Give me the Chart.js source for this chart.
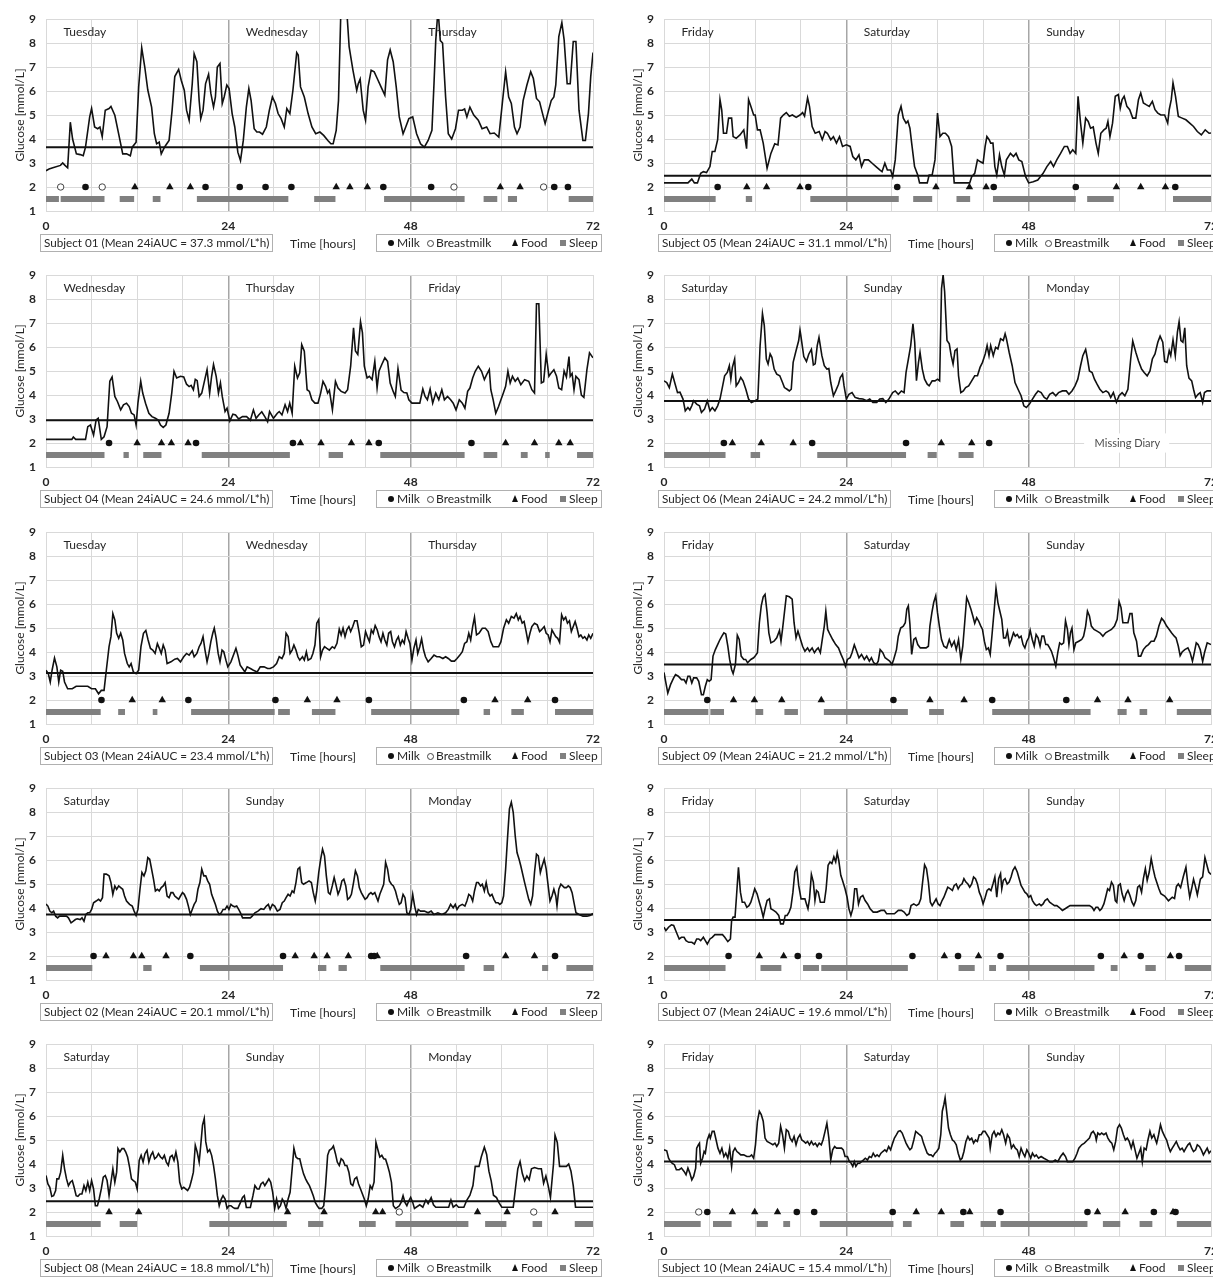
<!DOCTYPE html>
<html><head><meta charset="utf-8">
<script src="https://cdn.jsdelivr.net/npm/chart.js@4.4.1/dist/chart.umd.min.js"></script>
<style>
html,body{margin:0;padding:0;background:#fff;overflow:hidden;width:1213px;height:1278px;position:relative;}
canvas{position:absolute;}
.sbox{position:absolute;height:16px;line-height:16px;border:1px solid #b0b0b0;padding:0 3px;font:11.7px Lato,"Open Sans",sans-serif;color:#262626;white-space:nowrap;box-sizing:content-box;}
.xt{position:absolute;font:12px Lato,"Open Sans",sans-serif;color:#262626;white-space:nowrap;}
.leg{position:absolute;height:16px;width:224px;border:1px solid #b0b0b0;font:12px Lato,"Open Sans",sans-serif;color:#262626;white-space:nowrap;}
.leg span{position:absolute;top:0;line-height:16px;}
.leg i{position:absolute;display:block;}
.mk{width:6px;height:6px;border-radius:50%;background:#111;top:5px;}
.bm{width:5px;height:5px;border-radius:50%;border:1px solid #444;background:#fff;top:5px;}
.fd{width:0;height:0;border-left:3.5px solid transparent;border-right:3.5px solid transparent;border-bottom:7px solid #111;top:4px;}
.sl{width:6px;height:6px;background:#808080;top:5px;}
</style>
</head><body>
<script>
// ---------------- DATA ----------------
const xTickLabels = [0, 24, 48, 72];

const days01 = ['Tuesday','Wednesday','Thursday'];
const days05 = ['Friday','Saturday','Sunday'];
const days04 = ['Wednesday','Thursday','Friday'];
const days06 = ['Saturday','Sunday','Monday'];
const days03 = ['Tuesday','Wednesday','Thursday'];
const days09 = ['Friday','Saturday','Sunday'];
const days02 = ['Saturday','Sunday','Monday'];
const days07 = ['Friday','Saturday','Sunday'];
const days08 = ['Saturday','Sunday','Monday'];
const days10 = ['Friday','Saturday','Sunday'];

const label01 = 'Subject 01 (Mean 24iAUC = 37.3 mmol/L*h)';
const label05 = 'Subject 05 (Mean 24iAUC = 31.1 mmol/L*h)';
const label04 = 'Subject 04 (Mean 24iAUC = 24.6 mmol/L*h)';
const label06 = 'Subject 06 (Mean 24iAUC = 24.2 mmol/L*h)';
const label03 = 'Subject 03 (Mean 24iAUC = 23.4 mmol/L*h)';
const label09 = 'Subject 09 (Mean 24iAUC = 21.2 mmol/L*h)';
const label02 = 'Subject 02 (Mean 24iAUC = 20.1 mmol/L*h)';
const label07 = 'Subject 07 (Mean 24iAUC = 19.6 mmol/L*h)';
const label08 = 'Subject 08 (Mean 24iAUC = 18.8 mmol/L*h)';
const label10 = 'Subject 10 (Mean 24iAUC = 15.4 mmol/L*h)';

const baseline01 = 3.66, baseline05 = 2.47, baseline04 = 2.95, baseline06 = 3.75, baseline03 = 3.13;
const baseline09 = 3.48, baseline02 = 3.73, baseline07 = 3.5, baseline08 = 2.45, baseline10 = 4.1;

// glucose [hour, mmol/L]
const glucose01 = [[0,2.68],[0.4,2.75],[0.9,2.8],[1.9,2.9],[2.2,3.0],[2.5,2.9],[2.85,2.8],[3.2,4.7],[3.5,4.0],[4.0,3.38],[4.5,3.35],[4.9,3.3],[5.2,3.66],[5.75,4.92],[6.0,5.27],[6.4,4.5],[6.8,4.43],[7.1,4.5],[7.4,4.1],[7.8,5.2],[8.3,5.27],[8.55,5.36],[9.06,4.99],[9.57,4.2],[10.1,3.38],[10.6,3.38],[11.1,3.3],[11.35,3.66],[11.86,3.87],[12.2,6.17],[12.6,7.8],[13.0,7.0],[13.4,6.04],[13.9,5.33],[14.26,4.22],[14.56,3.8],[14.9,3.87],[15.17,3.38],[15.6,3.66],[15.9,3.8],[16.2,3.94],[16.6,5.2],[16.95,6.6],[17.46,6.9],[17.8,6.45],[18.2,6.03],[18.5,5.2],[18.84,4.78],[19.25,6.3],[19.5,7.55],[19.86,7.22],[20.16,5.6],[20.37,4.85],[20.67,5.2],[21.0,6.3],[21.4,6.7],[21.7,5.9],[22.05,5.33],[22.3,5.75],[22.55,7.0],[22.9,7.15],[23.2,5.48],[23.45,5.75],[23.8,6.25],[24.1,6.1],[24.5,5.06],[24.85,4.5],[25.25,3.45],[25.6,3.1],[25.97,3.94],[26.37,5.33],[26.7,6.1],[27.0,5.6],[27.4,4.43],[27.75,4.29],[28.1,4.29],[28.5,4.2],[29.0,4.5],[29.4,5.2],[29.8,5.75],[30.2,5.48],[30.55,5.06],[30.95,4.85],[31.36,4.5],[31.7,5.27],[32.1,5.06],[32.5,6.03],[33.0,7.6],[33.2,7.5],[33.5,6.17],[34.0,5.75],[34.5,5.06],[35.0,4.5],[35.5,4.22],[36.05,4.29],[36.55,4.15],[37.1,3.94],[37.5,3.8],[37.8,3.8],[38.2,4.36],[38.5,5.6],[38.8,9.2],[39.2,9.8],[39.6,9.3],[39.9,7.85],[40.4,6.87],[40.9,6.03],[41.1,6.3],[41.35,6.5],[41.75,5.2],[42.06,4.78],[42.4,6.17],[42.8,6.87],[43.2,6.8],[43.6,6.52],[44.1,6.17],[44.6,5.83],[44.96,7.3],[45.3,7.71],[45.7,7.22],[46.1,6.17],[46.5,4.92],[47.0,4.22],[47.35,4.5],[47.76,4.85],[48.27,4.92],[48.78,4.22],[49.3,3.8],[49.8,3.66],[50.3,3.94],[50.8,4.36],[51.07,6.3],[51.3,8.1],[51.6,9.4],[51.9,8.1],[52.2,8.0],[52.6,5.75],[52.95,4.22],[53.4,4.0],[53.9,4.43],[54.3,5.2],[54.8,5.2],[55.1,5.25],[55.4,4.92],[55.8,5.33],[56.3,5.0],[56.9,4.78],[57.4,4.43],[58.0,4.5],[58.45,4.22],[59.0,4.25],[59.6,4.08],[60.1,5.6],[60.5,6.8],[60.9,5.75],[61.25,5.48],[61.66,4.5],[62.0,4.22],[62.4,4.5],[62.8,5.6],[63.3,6.25],[63.8,6.8],[64.15,6.52],[64.56,5.69],[64.97,5.55],[65.3,5.13],[65.7,4.64],[66.1,5.13],[66.5,5.6],[66.85,5.75],[67.1,6.25],[67.5,8.27],[67.9,8.85],[68.2,8.13],[68.6,6.3],[69.0,6.3],[69.4,8.06],[69.75,8.06],[70.16,5.2],[70.67,3.94],[71.0,3.94],[71.4,5.06],[71.7,6.6],[72,7.6]];

const glucose05 = [[0,2.17],[1.5,2.17],[3.15,2.17],[3.66,2.33],[4.0,2.17],[4.4,2.17],[4.83,2.57],[5.18,2.64],[5.6,2.6],[6.05,2.85],[6.35,3.48],[6.7,3.48],[7.06,3.97],[7.37,5.64],[7.6,5.2],[7.83,4.24],[8.23,4.24],[8.5,4.87],[8.9,4.87],[9.1,4.1],[9.5,4.03],[10.0,4.17],[10.5,4.38],[10.87,3.6],[11.13,5.64],[11.43,5.36],[11.8,5.0],[12.0,5.0],[12.3,4.38],[12.65,4.38],[13.06,3.83],[13.57,2.78],[14.07,3.4],[14.58,3.8],[15.0,3.75],[15.35,4.87],[15.7,5.0],[16.1,5.1],[16.5,4.95],[16.9,5.0],[17.4,4.9],[17.9,5.0],[18.24,5.1],[18.5,4.95],[18.9,5.71],[19.15,5.36],[19.5,4.52],[19.9,4.24],[20.43,4.31],[20.83,3.97],[21.2,4.31],[21.5,4.24],[21.95,3.97],[22.3,4.1],[22.7,3.83],[23.1,4.1],[23.5,3.69],[24.0,3.76],[24.5,3.69],[24.85,3.27],[25.25,3.13],[25.66,3.34],[26.0,2.85],[26.37,3.13],[26.9,3.13],[27.4,2.99],[27.9,2.85],[28.4,2.71],[28.7,2.64],[29.07,2.99],[29.4,2.71],[29.83,2.71],[30.1,2.43],[30.44,3.13],[30.84,5.0],[31.2,5.36],[31.5,4.87],[31.86,4.66],[32.1,4.75],[32.37,4.45],[32.6,3.83],[32.98,2.85],[33.4,2.5],[33.64,2.17],[34.15,2.17],[34.65,2.17],[34.9,2.5],[35.3,2.5],[35.67,3.13],[36.0,5.08],[36.33,4.1],[36.7,4.24],[37.04,4.24],[37.45,4.1],[37.86,3.69],[38.2,2.17],[40.24,2.17],[40.5,2.43],[40.9,2.57],[41.26,3.13],[41.6,3.06],[42.0,2.99],[42.27,3.69],[42.5,4.1],[42.8,3.97],[43.0,3.83],[43.3,3.83],[43.55,2.85],[43.8,2.5],[44.16,3.34],[44.46,2.85],[44.8,2.5],[45.07,3.13],[45.6,3.4],[46.0,3.27],[46.34,3.4],[46.7,3.13],[47.1,3.06],[47.6,2.43],[48.0,2.17],[48.6,2.22],[49.2,2.29],[49.9,2.57],[50.4,2.85],[50.9,3.06],[51.27,2.85],[51.7,3.13],[52.2,3.4],[52.7,3.69],[53.1,3.69],[53.45,3.4],[53.8,3.55],[54.2,3.4],[54.5,5.78],[54.83,4.66],[55.13,3.83],[55.5,4.87],[55.84,4.73],[56.15,4.45],[56.5,4.5],[56.86,3.83],[57.16,3.4],[57.5,4.24],[57.9,4.38],[58.2,4.45],[58.43,4.73],[58.7,4.1],[59.04,4.66],[59.4,5.78],[59.8,5.85],[60.06,5.29],[60.3,5.64],[60.57,5.78],[60.93,5.36],[61.3,5.22],[61.7,4.87],[62.1,4.87],[62.45,5.64],[62.75,5.92],[63.1,5.5],[63.46,5.43],[63.87,5.36],[64.28,5.57],[64.63,5.22],[65.0,5.08],[65.4,5.0],[65.9,5.0],[66.3,4.66],[66.5,5.22],[66.77,5.64],[67.0,6.34],[67.33,5.78],[67.7,4.94],[68.2,4.87],[68.7,4.8],[69.2,4.66],[69.7,4.52],[70.2,4.31],[70.73,4.17],[71.24,4.38],[71.75,4.24],[72,4.25]];

const glucose04 = [[0,2.15],[3.4,2.15],[3.6,2.25],[3.9,2.15],[5.2,2.15],[5.5,2.68],[5.85,2.75],[6.26,2.33],[6.6,2.96],[6.87,3.03],[7.28,2.15],[7.64,2.26],[8.04,2.68],[8.4,4.57],[8.7,4.75],[9.06,3.94],[9.4,3.73],[9.83,3.38],[10.2,3.59],[10.6,3.66],[10.95,3.52],[11.25,3.24],[11.6,3.17],[11.86,2.75],[12.1,3.66],[12.47,4.57],[12.73,4.08],[13.1,3.66],[13.54,3.24],[13.95,3.1],[14.4,3.03],[14.77,2.96],[15.07,2.75],[15.43,2.65],[15.78,2.75],[16.2,3.24],[16.55,4.08],[16.85,4.99],[17.2,4.71],[17.7,4.78],[18.13,4.75],[18.5,4.45],[18.84,4.35],[19.1,4.4],[19.4,4.22],[19.65,4.65],[19.9,4.6],[20.16,3.94],[20.5,4.08],[20.9,4.64],[21.2,5.06],[21.54,4.08],[21.8,4.78],[22.05,5.27],[22.4,4.78],[22.7,4.08],[22.96,4.5],[23.2,3.94],[23.57,3.31],[23.83,3.45],[24.2,2.92],[24.6,3.2],[24.95,3.17],[25.36,3.0],[25.87,3.1],[26.4,3.1],[26.9,2.95],[27.3,3.38],[27.65,3.03],[28.0,3.17],[28.4,3.3],[28.8,3.1],[29.17,2.89],[29.43,3.31],[29.94,3.03],[30.45,3.24],[30.7,3.31],[31.06,3.17],[31.47,3.59],[31.8,3.31],[32.08,3.66],[32.4,3.24],[32.74,5.2],[33.1,4.71],[33.4,4.92],[33.66,6.1],[34.0,5.83],[34.37,4.22],[34.67,4.15],[35.0,3.8],[35.4,3.66],[35.8,3.66],[36.15,4.08],[36.46,4.57],[36.8,4.36],[37.07,4.08],[37.3,4.2],[37.7,3.38],[38.1,4.57],[38.44,4.29],[38.85,4.15],[39.36,4.08],[39.7,4.22],[40.1,5.2],[40.48,6.8],[40.73,5.83],[41.04,5.69],[41.4,7.05],[41.65,6.6],[41.9,5.2],[42.26,4.71],[42.57,4.78],[42.92,4.64],[43.28,5.4],[43.58,4.3],[43.84,5.0],[44.2,5.27],[44.6,5.55],[44.96,5.4],[45.3,4.5],[45.7,4.15],[45.98,3.94],[46.33,5.1],[46.74,4.2],[47.1,4.1],[47.5,4.08],[47.76,3.8],[48.17,3.66],[48.67,3.66],[49.2,3.66],[49.6,4.25],[49.9,3.94],[50.2,3.8],[50.56,4.25],[50.9,3.66],[51.3,4.08],[51.7,3.8],[52.1,4.22],[52.44,3.8],[52.85,3.94],[53.26,3.8],[53.6,3.66],[53.97,3.38],[54.4,3.8],[54.8,3.66],[55.14,3.45],[55.5,4.15],[55.8,4.29],[56.16,4.71],[56.5,4.99],[56.9,5.2],[57.33,4.99],[57.7,4.64],[58.0,4.85],[58.35,5.06],[58.55,4.22],[58.86,3.8],[59.2,3.24],[59.57,3.52],[59.88,3.8],[60.2,4.08],[60.5,4.36],[60.8,4.99],[61.1,4.5],[61.4,4.78],[61.76,4.57],[62.1,4.71],[62.5,4.43],[63.0,4.64],[63.54,4.57],[63.95,4.22],[64.3,4.08],[64.56,7.8],[64.87,7.8],[65.2,4.5],[65.5,4.55],[65.84,5.7],[66.2,4.78],[66.5,4.92],[66.85,5.05],[67.2,4.78],[67.5,4.29],[67.87,4.22],[68.2,5.0],[68.5,4.75],[68.84,5.6],[69.0,4.78],[69.25,4.9],[69.5,4.22],[69.75,4.78],[70.16,4.64],[70.47,4.0],[70.8,3.9],[71.2,5.06],[71.54,5.76],[72,5.55]];

const glucose06 = [[0,4.59],[0.36,4.52],[0.7,4.31],[1.1,4.87],[1.47,4.45],[1.78,4.1],[2.1,4.12],[2.5,3.83],[2.8,3.34],[3.15,3.48],[3.4,3.38],[3.66,3.55],[3.9,3.76],[4.3,3.62],[4.67,3.55],[4.93,3.27],[5.33,3.41],[5.7,3.76],[6.05,3.34],[6.35,3.48],[6.7,3.34],[7.06,3.55],[7.37,3.83],[7.72,4.38],[7.98,4.8],[8.33,4.94],[8.6,5.22],[8.8,4.66],[9.0,5.15],[9.3,5.5],[9.5,4.38],[9.8,4.52],[10.1,4.73],[10.4,4.59],[10.77,4.24],[11.13,3.83],[11.5,3.69],[12.0,3.76],[12.35,3.83],[12.65,6.06],[12.96,7.39],[13.2,6.9],[13.47,5.5],[13.7,5.29],[13.97,5.71],[14.2,5.57],[14.5,5.08],[14.84,4.87],[15.24,4.8],[15.6,4.52],[15.85,4.31],[16.2,4.24],[16.5,4.17],[16.75,4.24],[17.0,5.36],[17.33,5.78],[17.73,6.27],[17.9,6.7],[18.0,6.5],[18.4,5.6],[18.75,5.4],[19.05,5.7],[19.4,5.9],[19.66,5.25],[19.9,5.3],[20.17,6.06],[20.4,6.4],[20.78,5.64],[21.1,5.22],[21.44,5.08],[21.7,5.1],[21.95,4.52],[22.3,3.97],[22.6,4.17],[22.97,4.45],[23.2,4.73],[23.5,4.87],[23.7,4.38],[24.0,3.83],[24.34,4.03],[24.75,4.1],[25.15,3.9],[25.66,3.85],[26.17,3.83],[26.68,3.76],[27.08,3.83],[27.5,3.69],[28.0,3.69],[28.4,3.83],[28.8,3.85],[29.2,3.69],[29.6,3.83],[30.1,4.1],[30.44,4.17],[30.84,4.03],[31.25,4.17],[31.6,4.1],[31.86,4.94],[32.17,5.5],[32.47,6.06],[32.77,6.97],[33.0,6.2],[33.23,4.6],[33.5,5.36],[33.7,5.78],[34.0,5.08],[34.3,4.66],[34.65,4.45],[34.9,4.38],[35.3,4.59],[35.67,4.59],[36.0,4.66],[36.28,4.59],[36.53,8.44],[36.74,9.0],[36.94,8.3],[37.25,6.27],[37.55,6.13],[37.8,5.64],[38.05,5.29],[38.3,5.85],[38.57,5.92],[38.77,4.8],[39.07,4.1],[39.4,4.17],[39.7,4.31],[40.1,4.38],[40.5,4.59],[40.9,4.8],[41.26,4.8],[41.6,5.15],[41.92,5.36],[42.28,5.71],[42.53,6.06],[42.78,5.64],[43.0,6.06],[43.34,5.64],[43.65,5.99],[43.95,5.92],[44.3,6.34],[44.66,6.27],[44.9,6.55],[45.07,6.35],[45.43,5.78],[45.83,5.22],[46.2,4.52],[46.6,4.24],[47.0,3.97],[47.36,3.55],[47.7,3.48],[48.1,3.62],[48.5,3.83],[48.9,4.03],[49.24,4.17],[49.64,4.1],[50.05,3.9],[50.4,3.83],[50.76,4.03],[51.17,4.1],[51.57,3.97],[51.93,4.1],[52.44,4.17],[52.95,4.17],[53.3,4.03],[53.7,4.17],[54.1,4.38],[54.47,4.66],[54.83,5.22],[55.13,5.64],[55.5,5.9],[55.74,5.5],[56.0,5.0],[56.35,4.94],[56.66,4.66],[57.0,4.45],[57.37,4.24],[57.77,4.1],[58.18,4.17],[58.5,4.1],[58.8,3.9],[59.15,4.1],[59.55,3.7],[59.9,3.97],[60.3,4.1],[60.66,3.97],[61.06,4.24],[61.43,5.5],[61.7,6.25],[62.1,5.78],[62.45,5.43],[62.86,5.08],[63.2,4.94],[63.6,4.8],[63.97,5.0],[64.28,5.5],[64.63,5.71],[65.0,6.2],[65.3,6.45],[65.65,6.2],[65.9,5.4],[66.2,5.36],[66.5,5.85],[66.7,5.64],[67.0,6.3],[67.3,5.64],[67.58,6.62],[67.8,7.05],[68.04,6.27],[68.3,6.2],[68.55,6.8],[68.8,5.22],[69.1,4.7],[69.46,4.59],[69.7,4.24],[69.97,3.9],[70.3,4.03],[70.58,4.1],[70.9,3.69],[71.14,4.1],[71.5,4.17],[72,4.17]];

const glucose03 = [[0,3.24],[0.3,3.1],[0.56,2.75],[0.8,3.24],[1.12,3.75],[1.43,3.38],[1.68,2.75],[1.93,3.24],[2.2,3.2],[2.44,2.75],[2.85,2.47],[3.46,2.47],[3.97,2.57],[4.74,2.57],[5.5,2.57],[6.0,2.47],[6.5,2.47],[6.92,2.26],[7.28,2.4],[7.64,2.4],[7.94,3.24],[8.3,4.22],[8.55,4.64],[8.8,5.6],[9.06,5.34],[9.3,4.78],[9.57,4.57],[9.83,4.78],[10.1,4.5],[10.34,3.94],[10.7,3.52],[10.95,3.38],[11.2,3.52],[11.5,3.17],[11.86,3.1],[12.2,3.24],[12.5,4.22],[12.83,4.78],[13.14,4.9],[13.44,4.5],[13.75,4.15],[14.05,4.08],[14.36,3.94],[14.66,4.35],[14.92,4.15],[15.17,3.94],[15.43,4.29],[15.68,4.08],[15.94,3.52],[16.45,3.59],[16.95,3.7],[17.3,3.73],[17.7,3.59],[18.13,3.8],[18.5,3.94],[18.84,3.87],[19.25,4.05],[19.5,3.8],[19.86,3.94],[20.16,4.22],[20.4,4.36],[20.67,4.64],[20.93,4.08],[21.2,3.59],[21.44,3.94],[21.7,4.43],[21.95,4.78],[22.15,4.99],[22.4,4.57],[22.66,3.94],[22.9,3.59],[23.17,4.08],[23.4,4.01],[23.68,3.66],[23.93,3.38],[24.34,3.59],[24.75,3.94],[25.0,4.15],[25.25,3.87],[25.56,3.45],[25.87,3.31],[26.17,3.17],[26.48,3.38],[26.9,3.31],[27.3,3.24],[27.8,3.17],[28.2,3.38],[28.7,3.38],[29.17,3.31],[29.5,3.31],[29.94,3.38],[30.35,3.52],[30.7,3.8],[31.06,3.73],[31.36,3.94],[31.6,4.78],[31.87,4.64],[32.13,3.94],[32.4,4.08],[32.63,4.29],[32.9,4.08],[33.15,3.8],[33.4,3.66],[33.76,3.8],[34.0,3.66],[34.27,4.01],[34.5,3.66],[34.88,3.73],[35.13,3.94],[35.4,4.29],[35.64,5.2],[35.9,5.35],[36.15,3.8],[36.4,4.08],[36.66,4.22],[36.97,4.15],[37.3,4.08],[37.68,4.22],[37.98,4.15],[38.3,4.36],[38.6,4.95],[38.85,4.71],[39.1,4.99],[39.36,4.64],[39.6,4.92],[39.87,5.06],[40.1,4.85],[40.38,5.06],[40.63,5.3],[40.94,5.3],[41.24,4.78],[41.5,4.22],[41.8,4.29],[42.06,4.85],[42.3,4.64],[42.57,4.43],[42.82,4.92],[43.07,4.78],[43.33,5.1],[43.6,4.92],[43.84,4.64],[44.1,4.43],[44.35,4.78],[44.6,4.5],[44.86,4.29],[45.1,4.78],[45.37,4.85],[45.6,4.43],[45.87,4.22],[46.13,4.5],[46.38,4.64],[46.64,4.29],[46.9,4.5],[47.15,4.36],[47.4,4.85],[47.66,4.57],[47.9,4.36],[48.17,3.66],[48.42,4.15],[48.7,4.5],[48.93,3.94],[49.2,4.22],[49.44,4.55],[49.7,4.08],[49.95,3.8],[50.3,3.59],[50.7,3.73],[51.07,3.87],[51.43,3.8],[51.8,3.8],[52.24,3.73],[52.6,3.8],[52.95,3.73],[53.36,3.62],[53.77,3.62],[54.1,3.73],[54.48,3.87],[54.8,4.01],[55.1,4.36],[55.4,4.43],[55.65,4.78],[55.9,4.5],[56.16,5.06],[56.4,5.45],[56.67,4.71],[57.0,4.78],[57.43,4.99],[57.84,4.99],[58.2,4.85],[58.55,4.43],[58.86,4.22],[59.2,4.22],[59.57,4.22],[59.88,4.43],[60.23,4.99],[60.6,5.34],[60.9,5.2],[61.25,5.48],[61.6,5.41],[61.9,5.6],[62.17,5.34],[62.4,5.48],[62.68,5.2],[62.93,5.27],[63.2,4.85],[63.44,4.43],[63.7,4.78],[63.95,5.06],[64.3,5.2],[64.66,5.13],[64.97,4.85],[65.2,4.92],[65.58,5.06],[65.84,4.78],[66.1,4.71],[66.34,4.43],[66.6,4.92],[66.85,4.78],[67.1,4.64],[67.36,4.57],[67.6,4.4],[67.87,5.55],[68.13,5.34],[68.4,5.45],[68.64,5.2],[68.9,5.3],[69.15,4.85],[69.4,5.06],[69.65,5.27],[69.9,4.99],[70.16,4.64],[70.4,4.71],[70.67,4.57],[70.9,4.64],[71.2,4.5],[71.44,4.71],[71.7,4.57],[72,4.78]];

const glucose09 = [[0,3.15],[0.25,2.71],[0.5,2.29],[0.86,2.64],[1.27,2.92],[1.52,3.06],[1.88,2.99],[2.3,2.85],[2.64,2.85],[2.9,2.71],[3.15,2.99],[3.4,2.99],[3.66,2.71],[3.9,2.92],[4.3,2.92],[4.57,2.78],[4.93,2.22],[5.18,2.22],[5.44,2.57],[5.7,2.85],[5.95,2.78],[6.2,2.85],[6.45,3.83],[6.76,4.1],[7.06,4.31],[7.37,4.52],[7.62,4.66],[7.88,4.8],[8.13,4.75],[8.4,4.24],[8.64,3.69],[8.9,3.27],[9.1,3.1],[9.4,3.48],[9.65,4.7],[9.9,4.52],[10.16,3.83],[10.5,3.69],[10.75,3.69],[11.0,3.55],[11.43,3.69],[11.8,3.76],[12.0,3.83],[12.3,3.97],[12.55,5.22],[12.8,5.92],[13.06,6.3],[13.3,6.4],[13.57,5.64],[13.8,4.8],[14.07,4.38],[14.48,4.45],[14.84,4.59],[15.2,4.9],[15.4,4.45],[15.6,4.94],[15.85,5.64],[16.1,6.34],[16.5,6.3],[16.87,6.2],[17.12,5.22],[17.38,4.59],[17.63,4.87],[17.9,4.59],[18.24,4.24],[18.55,4.03],[18.9,4.17],[19.15,4.03],[19.5,4.17],[19.8,3.97],[20.07,4.1],[20.3,4.17],[20.58,3.97],[20.83,4.52],[21.1,5.08],[21.3,5.7],[21.54,4.94],[21.85,4.73],[22.2,4.52],[22.6,4.31],[22.97,4.17],[23.3,3.9],[23.6,3.69],[23.88,3.41],[24.14,3.69],[24.5,3.76],[24.75,3.97],[25.05,4.3],[25.36,4.03],[25.66,3.76],[26.0,3.9],[26.37,3.69],[26.68,3.83],[27.03,3.62],[27.3,3.76],[27.6,3.55],[27.95,3.48],[28.2,3.62],[28.45,4.1],[28.8,3.97],[29.1,3.76],[29.4,3.69],[29.7,3.62],[30.0,3.48],[30.23,3.69],[30.6,4.1],[30.84,4.66],[31.15,5.0],[31.5,5.08],[31.76,5.22],[31.96,5.78],[32.16,5.92],[32.37,5.15],[32.6,3.9],[32.88,4.52],[33.13,4.59],[33.4,4.31],[33.74,4.17],[34.15,4.17],[34.5,4.17],[34.8,4.24],[35.0,5.08],[35.26,5.64],[35.5,6.06],[35.77,6.34],[36.0,5.64],[36.28,5.0],[36.53,4.52],[36.84,4.24],[37.2,4.17],[37.55,4.52],[37.86,4.24],[38.2,4.45],[38.47,4.1],[38.77,4.52],[39.07,3.7],[39.33,4.24],[39.58,5.22],[39.84,6.27],[40.1,6.06],[40.4,5.78],[40.65,5.5],[40.9,5.2],[41.16,5.43],[41.4,5.3],[41.67,5.1],[41.92,4.94],[42.17,4.45],[42.43,4.1],[42.7,4.17],[42.94,3.9],[43.2,4.8],[43.45,5.71],[43.7,6.65],[43.95,6.06],[44.2,5.71],[44.46,5.36],[44.7,4.59],[44.97,4.59],[45.2,4.87],[45.48,4.31],[45.73,4.52],[46.0,4.8],[46.24,4.66],[46.5,4.73],[46.75,4.59],[47.0,4.66],[47.26,4.31],[47.5,4.17],[47.76,4.45],[48.0,4.59],[48.2,4.9],[48.47,4.52],[48.73,4.24],[48.98,4.73],[49.24,4.59],[49.5,4.24],[49.75,4.66],[50.0,4.66],[50.25,4.31],[50.5,4.31],[50.76,4.17],[51.0,4.03],[51.27,3.76],[51.57,3.41],[51.83,3.97],[52.08,4.38],[52.34,4.31],[52.6,4.38],[52.85,5.3],[53.1,4.94],[53.3,4.31],[53.5,4.8],[53.7,4.99],[53.96,4.1],[54.2,4.38],[54.6,4.45],[54.98,4.52],[55.23,4.66],[55.5,5.08],[55.74,5.7],[56.0,5.5],[56.25,5.08],[56.6,4.94],[57.0,4.87],[57.37,4.8],[57.77,4.66],[58.13,4.8],[58.5,4.87],[58.9,4.94],[59.3,5.08],[59.65,5.36],[59.9,6.1],[60.16,5.85],[60.4,5.22],[60.7,5.22],[61.07,5.22],[61.33,5.6],[61.6,5.6],[61.84,4.8],[62.2,4.45],[62.45,3.83],[62.75,3.83],[63.1,4.1],[63.46,4.24],[63.77,4.31],[64.13,4.45],[64.5,4.45],[64.8,4.66],[65.14,5.08],[65.5,5.4],[65.8,5.29],[66.16,5.08],[66.5,4.94],[66.8,4.8],[67.17,4.66],[67.4,4.59],[67.7,4.24],[67.94,3.85],[68.2,4.0],[68.55,4.1],[68.96,4.17],[69.26,3.97],[69.56,3.62],[69.8,3.97],[70.06,4.38],[70.3,4.31],[70.58,4.1],[70.9,3.6],[71.14,3.97],[71.5,4.38],[72,4.31]];

const glucose02 = [[0,4.17],[0.25,4.08],[0.5,3.87],[0.76,3.8],[1.0,3.87],[1.27,3.66],[1.53,3.59],[1.78,3.66],[2.2,3.66],[2.7,3.66],[2.95,3.59],[3.3,3.38],[3.6,3.45],[3.87,3.52],[4.12,3.55],[4.5,3.52],[4.74,3.59],[5.0,3.45],[5.24,3.73],[5.5,3.8],[5.75,3.8],[6.0,3.94],[6.26,4.22],[6.6,4.29],[6.92,4.36],[7.18,4.29],[7.43,4.43],[7.64,5.41],[7.94,5.41],[8.3,5.34],[8.55,5.06],[8.8,4.57],[9.06,4.92],[9.3,4.78],[9.57,4.92],[9.83,4.85],[10.1,4.78],[10.34,4.5],[10.6,4.29],[11.0,4.15],[11.35,4.08],[11.6,3.87],[11.86,3.69],[12.1,3.94],[12.37,4.78],[12.63,5.48],[12.9,5.34],[13.14,5.55],[13.4,6.1],[13.65,6.03],[13.9,5.62],[14.15,5.2],[14.4,4.71],[14.66,4.78],[14.9,4.71],[15.17,4.85],[15.43,4.92],[15.68,5.06],[15.94,4.5],[16.2,4.43],[16.45,4.64],[16.7,4.64],[16.95,4.5],[17.2,4.43],[17.46,4.36],[17.7,4.5],[17.97,4.64],[18.2,4.57],[18.5,4.36],[18.74,4.08],[19.0,3.73],[19.25,3.94],[19.5,4.15],[19.76,4.29],[20.0,4.78],[20.26,5.06],[20.5,5.62],[20.77,5.34],[21.03,5.34],[21.28,5.13],[21.54,4.99],[21.8,4.57],[22.05,4.36],[22.3,4.15],[22.56,3.87],[22.8,3.73],[23.07,3.8],[23.3,3.94],[23.57,3.94],[23.83,4.08],[24.08,3.94],[24.34,4.15],[24.6,4.08],[24.85,4.05],[25.1,4.08],[25.36,3.94],[25.6,3.8],[25.87,3.59],[26.37,3.59],[26.9,3.59],[27.14,3.66],[27.5,3.8],[27.9,3.87],[28.3,3.97],[28.67,3.94],[29.0,4.08],[29.27,4.15],[29.5,3.94],[29.8,4.15],[30.1,4.08],[30.45,3.87],[30.8,3.94],[31.1,4.22],[31.36,4.29],[31.6,4.43],[31.87,4.57],[32.13,4.5],[32.4,4.71],[32.63,4.64],[32.9,5.06],[33.15,5.62],[33.4,5.69],[33.66,5.06],[33.9,4.99],[34.27,5.06],[34.62,5.13],[34.93,5.06],[35.18,4.64],[35.44,4.29],[35.64,4.71],[35.9,5.48],[36.15,6.03],[36.4,6.45],[36.66,6.17],[36.9,5.34],[37.17,4.64],[37.4,4.57],[37.68,4.92],[37.93,5.27],[38.2,4.92],[38.44,4.57],[38.7,4.78],[38.95,5.13],[39.2,5.2],[39.46,4.92],[39.7,4.36],[39.97,4.43],[40.2,4.57],[40.48,5.06],[40.73,5.55],[41.0,5.34],[41.24,4.85],[41.5,4.64],[41.75,4.5],[42.0,4.36],[42.26,4.43],[42.5,4.57],[42.77,4.64],[43.0,4.57],[43.28,4.64],[43.53,4.43],[43.7,4.29],[43.94,4.57],[44.2,4.78],[44.45,4.99],[44.7,5.9],[44.96,5.62],[45.2,5.13],[45.47,4.99],[45.72,4.92],[46.0,4.71],[46.23,4.43],[46.5,4.15],[46.74,4.22],[47.0,4.57],[47.25,4.43],[47.5,3.8],[47.76,3.73],[48.0,3.94],[48.27,4.57],[48.52,4.08],[48.78,3.73],[49.0,3.94],[49.3,3.87],[49.8,3.87],[50.3,3.8],[50.7,3.87],[51.07,3.73],[51.58,3.8],[52.1,3.73],[52.6,3.8],[52.95,3.94],[53.26,4.15],[53.6,4.01],[53.87,4.15],[54.1,3.94],[54.38,4.08],[54.8,4.15],[55.14,4.08],[55.4,4.29],[55.65,4.57],[55.9,4.5],[56.16,4.29],[56.4,4.71],[56.67,5.06],[56.9,5.06],[57.2,4.92],[57.43,4.99],[57.7,4.71],[57.94,5.06],[58.2,4.64],[58.45,4.5],[58.7,4.57],[58.96,4.36],[59.2,4.22],[59.5,4.22],[59.73,4.15],[60.0,4.22],[60.23,4.5],[60.5,5.62],[60.74,6.87],[61.0,8.13],[61.25,8.41],[61.5,7.99],[61.76,7.01],[62.0,6.31],[62.27,6.03],[62.5,5.75],[63.0,5.06],[63.54,4.36],[63.8,4.15],[64.05,4.5],[64.3,5.48],[64.56,6.24],[64.8,6.17],[65.07,5.48],[65.3,5.75],[65.58,6.03],[65.84,5.62],[66.1,4.92],[66.34,4.29],[66.6,4.5],[66.85,4.78],[67.1,4.5],[67.26,4.08],[67.5,4.78],[67.77,4.99],[68.0,4.92],[68.23,4.85],[68.5,4.85],[68.74,4.92],[69.0,4.85],[69.25,4.64],[69.5,4.22],[69.76,3.8],[70.16,3.73],[70.67,3.66],[71.2,3.66],[71.6,3.69],[72,3.77]];

const glucose07 = [[0,3.2],[0.25,3.06],[0.6,3.2],[0.97,3.3],[1.27,3.27],[1.63,2.99],[2.0,2.71],[2.3,2.78],[2.64,2.78],[2.9,2.64],[3.25,2.57],[3.66,2.57],[4.0,2.5],[4.3,2.71],[4.57,2.71],[4.83,2.64],[5.18,2.78],[5.44,2.64],[5.7,2.5],[6.05,2.71],[6.35,2.78],[6.7,2.89],[7.2,2.89],[7.7,2.89],[8.0,2.78],[8.4,2.6],[8.74,2.71],[8.9,3.48],[9.1,3.62],[9.35,3.62],[9.55,4.52],[9.8,5.7],[10.06,4.66],[10.3,4.24],[10.6,4.24],[10.9,4.03],[11.18,4.1],[11.43,4.24],[11.7,4.52],[11.94,4.8],[12.25,4.59],[12.55,4.24],[12.8,3.97],[13.06,3.62],[13.3,3.97],[13.57,4.31],[13.87,4.38],[14.07,3.97],[14.43,3.9],[14.74,3.83],[15.1,3.69],[15.35,3.34],[15.7,3.34],[15.96,3.69],[16.2,3.69],[16.46,3.83],[16.7,4.03],[16.97,4.66],[17.22,5.5],[17.48,5.7],[17.73,4.94],[18.04,4.38],[18.3,4.38],[18.55,4.38],[18.75,4.17],[18.95,3.97],[19.15,4.38],[19.4,5.4],[19.66,5.08],[19.87,4.31],[20.07,4.73],[20.3,4.66],[20.58,4.24],[20.83,4.24],[21.1,4.24],[21.34,4.8],[21.6,5.78],[21.85,5.92],[22.1,5.85],[22.36,6.13],[22.6,5.92],[22.8,6.3],[23.0,5.99],[23.27,5.36],[23.5,5.15],[23.83,4.8],[24.1,4.45],[24.34,3.97],[24.6,3.69],[24.85,3.97],[25.1,4.8],[25.36,4.8],[25.6,4.17],[25.86,4.45],[26.17,4.52],[26.47,4.31],[26.8,4.17],[27.13,3.97],[27.54,3.83],[28.05,3.83],[28.56,3.9],[29.0,3.9],[29.3,3.76],[29.8,3.76],[30.33,3.76],[30.84,3.9],[31.25,3.9],[31.6,3.83],[31.96,3.69],[32.27,3.76],[32.52,4.1],[32.88,4.17],[33.23,4.1],[33.54,4.17],[33.8,4.38],[34.04,5.08],[34.3,5.8],[34.55,5.64],[34.8,5.08],[35.06,4.24],[35.3,4.1],[35.57,4.24],[35.82,4.38],[36.08,4.17],[36.33,4.1],[36.6,4.31],[36.84,4.45],[37.1,4.66],[37.35,4.87],[37.7,4.8],[37.96,4.73],[38.2,4.94],[38.47,5.0],[38.72,4.8],[38.97,4.94],[39.23,5.0],[39.48,5.22],[39.74,5.08],[40.0,5.0],[40.24,4.87],[40.5,5.0],[40.75,5.29],[41.0,5.22],[41.26,5.0],[41.5,4.66],[41.77,4.45],[42.0,4.17],[42.28,4.45],[42.53,4.73],[42.78,4.8],[43.04,4.73],[43.3,5.0],[43.55,5.29],[43.8,4.45],[44.05,5.22],[44.3,5.43],[44.46,4.8],[44.66,5.15],[44.9,5.22],[45.17,5.0],[45.43,5.08],[45.68,5.29],[45.93,5.57],[46.2,5.71],[46.5,5.5],[46.75,5.22],[47.0,4.94],[47.26,4.8],[47.5,4.66],[47.76,4.59],[48.0,4.45],[48.27,4.52],[48.5,4.31],[48.78,4.17],[49.03,4.1],[49.4,4.17],[49.64,4.1],[49.9,4.17],[50.15,4.31],[50.46,4.38],[50.76,4.24],[51.07,4.17],[51.4,4.1],[51.7,4.1],[52.0,4.03],[52.44,3.9],[52.8,3.97],[53.1,4.03],[53.45,4.1],[53.96,4.1],[54.47,4.1],[54.98,4.1],[55.5,4.1],[56.0,4.1],[56.35,4.03],[56.6,3.9],[56.86,4.03],[57.1,4.03],[57.37,3.9],[57.6,3.97],[57.9,4.17],[58.13,4.45],[58.4,4.8],[58.64,4.73],[58.9,5.08],[59.15,4.94],[59.4,4.31],[59.6,4.24],[59.8,4.94],[60.06,5.0],[60.3,4.59],[60.57,4.31],[60.82,4.59],[61.07,4.73],[61.33,4.52],[61.6,4.24],[61.84,4.1],[62.1,4.31],[62.35,4.87],[62.6,4.94],[62.86,4.66],[63.1,5.22],[63.36,5.64],[63.6,5.15],[63.87,5.5],[64.13,6.06],[64.38,5.64],[64.63,5.29],[65.14,4.8],[65.4,4.6],[65.9,4.5],[66.4,4.3],[66.9,4.45],[67.2,4.4],[67.45,4.9],[67.7,5.0],[68.0,4.85],[68.35,5.3],[68.7,5.7],[68.95,5.0],[69.2,4.45],[69.45,4.8],[69.7,5.2],[69.95,4.9],[70.2,4.55],[70.6,5.2],[70.9,5.3],[71.2,6.1],[71.45,5.8],[71.7,5.5],[72,5.4]];

const glucose08 = [[0,3.52],[0.25,3.17],[0.5,3.03],[0.76,2.65],[1.0,2.68],[1.27,2.89],[1.43,3.38],[1.68,3.38],[1.93,3.66],[2.2,4.36],[2.44,3.8],[2.7,3.38],[2.95,3.1],[3.2,3.24],[3.46,3.31],[3.7,3.03],[3.97,2.68],[4.2,2.65],[4.48,2.75],[4.73,2.75],[5.0,3.1],[5.24,2.89],[5.5,3.24],[5.75,2.89],[6.0,3.31],[6.26,2.96],[6.5,2.26],[6.77,2.26],[7.0,2.54],[7.28,2.96],[7.54,3.45],[7.8,3.52],[8.04,3.31],[8.3,2.68],[8.55,3.24],[8.8,3.8],[9.06,3.24],[9.3,3.66],[9.47,4.64],[9.72,4.5],[10.0,4.64],[10.25,4.64],[10.5,4.5],[10.74,4.29],[11.0,3.87],[11.25,3.38],[11.5,3.31],[11.76,3.24],[12.0,2.96],[12.27,4.15],[12.52,4.36],[12.78,4.08],[13.03,4.43],[13.3,4.57],[13.54,4.08],[13.8,4.36],[14.05,4.5],[14.3,4.22],[14.56,4.29],[14.8,4.43],[15.07,4.29],[15.33,4.22],[15.58,4.36],[15.84,4.08],[16.1,3.94],[16.34,4.29],[16.6,4.36],[16.85,4.15],[17.1,4.5],[17.36,4.08],[17.6,3.24],[17.87,2.96],[18.13,3.03],[18.38,2.96],[18.64,2.89],[18.9,3.03],[19.14,3.31],[19.4,3.66],[19.65,4.78],[19.9,4.5],[20.16,4.08],[20.37,4.78],[20.6,5.62],[20.83,5.9],[21.03,4.92],[21.28,4.5],[21.54,4.6],[21.8,4.36],[22.05,3.94],[22.3,3.38],[22.56,2.68],[22.8,2.26],[23.07,2.54],[23.3,2.68],[23.57,2.54],[23.83,2.15],[24.08,2.26],[24.34,2.26],[24.6,2.19],[24.85,2.15],[25.25,2.15],[25.6,2.4],[25.87,2.61],[26.1,2.68],[26.37,2.19],[26.9,2.19],[27.24,2.68],[27.5,3.1],[27.8,2.96],[28.05,2.96],[28.3,3.17],[28.56,3.24],[28.8,3.1],[29.07,3.24],[29.33,3.38],[29.58,3.24],[29.84,2.82],[30.1,2.15],[30.35,2.54],[30.6,2.15],[30.86,2.26],[31.1,2.54],[31.36,2.4],[31.6,2.15],[31.87,2.54],[32.13,2.82],[32.4,3.8],[32.63,4.65],[32.9,4.29],[33.15,4.22],[33.4,4.22],[33.66,3.87],[33.9,3.59],[34.17,3.38],[34.4,3.24],[34.67,3.1],[34.93,2.89],[35.18,2.68],[35.44,2.4],[35.7,2.26],[35.95,2.15],[36.3,2.15],[36.56,2.26],[36.8,3.1],[37.07,4.36],[37.3,4.57],[37.6,4.64],[37.83,4.75],[38.1,4.43],[38.34,4.08],[38.6,3.94],[38.85,4.22],[39.1,4.15],[39.36,3.94],[39.6,3.94],[39.87,3.66],[40.12,3.17],[40.38,3.1],[40.63,3.38],[40.9,3.45],[41.14,3.17],[41.4,2.96],[41.65,2.75],[41.9,2.54],[42.16,2.26],[42.4,2.54],[42.67,3.1],[42.92,2.96],[43.18,3.24],[43.43,4.9],[43.7,4.57],[43.94,4.29],[44.2,4.36],[44.45,4.22],[44.7,4.2],[44.96,3.94],[45.2,3.66],[45.47,3.24],[45.72,2.26],[46.0,2.15],[46.23,2.19],[46.5,2.26],[46.74,2.4],[47.0,2.68],[47.25,2.4],[47.5,2.26],[47.76,2.47],[48.0,2.61],[48.27,2.4],[48.5,2.15],[49.2,2.3],[49.6,2.2],[50.0,2.5],[50.3,2.35],[50.7,2.6],[51.0,2.3],[51.3,2.2],[52.0,2.2],[53.0,2.2],[53.3,2.5],[53.6,2.2],[54.0,2.3],[54.3,2.2],[55.0,2.2],[55.4,2.5],[55.8,2.7],[56.2,3.1],[56.5,3.9],[57.0,3.9],[57.3,4.3],[57.7,4.7],[58.0,4.4],[58.3,3.7],[58.6,3.3],[58.9,2.7],[59.3,2.6],[59.6,2.4],[60.0,2.2],[61.0,2.2],[61.5,2.2],[61.8,3.0],[62.1,3.8],[62.4,4.1],[62.7,3.6],[63.0,3.3],[63.3,3.5],[63.6,3.35],[63.9,3.8],[64.3,3.85],[64.8,3.8],[65.2,3.8],[65.5,3.2],[65.8,3.5],[66.1,3.1],[66.4,2.6],[66.8,4.0],[67.0,5.2],[67.3,4.9],[67.6,3.9],[68.0,3.9],[68.5,3.9],[68.8,4.0],[69.1,3.7],[69.4,3.1],[69.7,2.2],[70.5,2.2],[72,2.2]];

const glucose10 = [[0,4.59],[0.36,4.55],[0.6,4.24],[0.86,4.1],[1.1,4.03],[1.37,3.97],[1.63,3.76],[2.0,3.76],[2.3,3.83],[2.64,3.69],[2.9,3.55],[3.15,3.83],[3.4,3.62],[3.66,3.34],[3.9,3.48],[4.17,3.83],[4.3,4.66],[4.52,4.8],[4.67,4.87],[4.83,4.03],[5.08,4.24],[5.28,4.52],[5.44,4.45],[5.7,5.0],[5.95,5.22],[6.1,5.08],[6.35,5.36],[6.6,5.36],[6.86,5.0],[7.1,4.66],[7.37,4.45],[7.62,4.66],[7.88,4.31],[8.13,4.45],[8.4,4.24],[8.64,4.66],[8.9,3.9],[9.1,4.52],[9.35,4.66],[9.6,4.52],[9.86,4.45],[10.1,4.38],[10.5,4.38],[10.9,4.31],[11.28,4.31],[11.53,4.38],[11.8,4.24],[12.04,4.8],[12.3,5.78],[12.55,6.2],[12.8,6.06],[13.06,5.78],[13.3,5.08],[13.57,4.94],[13.97,4.87],[14.33,4.8],[14.6,4.87],[14.84,4.73],[15.1,4.87],[15.35,5.57],[15.6,5.22],[15.85,4.66],[16.1,5.43],[16.36,5.36],[16.6,5.08],[16.87,4.94],[17.12,5.15],[17.38,4.8],[17.63,5.08],[17.9,5.22],[18.14,5.0],[18.4,4.94],[18.65,4.87],[18.9,4.94],[19.15,4.8],[19.4,4.94],[19.66,4.8],[19.92,4.87],[20.17,4.73],[20.43,4.87],[20.7,4.8],[20.93,5.0],[21.2,5.36],[21.44,5.7],[21.7,5.08],[21.95,4.17],[22.2,4.59],[22.46,4.73],[22.7,4.66],[23.07,4.66],[23.37,4.66],[23.6,4.59],[23.83,4.31],[24.14,4.31],[24.4,4.1],[24.64,4.03],[24.85,3.9],[25.05,4.1],[25.25,3.9],[25.5,4.03],[25.76,4.03],[26.0,4.1],[26.27,4.17],[26.5,4.24],[26.78,4.17],[27.03,4.31],[27.3,4.27],[27.54,4.45],[27.8,4.31],[28.05,4.38],[28.3,4.31],[28.56,4.45],[28.8,4.52],[29.07,4.59],[29.3,4.52],[29.57,4.73],[29.83,4.59],[30.1,4.87],[30.33,5.08],[30.6,5.22],[30.84,5.36],[31.1,5.39],[31.35,5.29],[31.6,5.08],[31.86,4.87],[32.1,4.73],[32.37,4.59],[32.6,4.66],[32.88,5.0],[33.13,5.36],[33.4,5.29],[33.64,5.22],[33.9,5.15],[34.15,4.87],[34.4,4.66],[34.65,4.45],[34.9,4.38],[35.15,4.38],[35.4,4.31],[35.67,4.45],[35.9,4.52],[36.18,4.66],[36.43,5.22],[36.63,6.2],[36.84,6.48],[37.0,6.76],[37.2,6.2],[37.45,5.5],[37.7,5.22],[37.96,5.0],[38.2,4.94],[38.47,4.8],[38.72,4.45],[39.0,4.17],[39.23,4.24],[39.48,4.52],[39.74,4.94],[40.0,5.15],[40.24,5.0],[40.5,5.08],[40.75,4.87],[41.0,5.0],[41.25,4.94],[41.5,5.22],[41.75,5.22],[42.0,5.36],[42.25,5.36],[42.53,5.22],[42.8,5.08],[42.94,4.66],[43.2,5.22],[43.45,5.36],[43.7,5.15],[43.95,5.29],[44.2,5.22],[44.46,5.43],[44.7,5.22],[44.97,4.87],[45.2,5.22],[45.48,5.08],[45.73,4.66],[46.0,4.8],[46.24,4.66],[46.5,4.59],[46.75,4.31],[47.0,4.66],[47.26,4.45],[47.5,4.31],[47.76,4.59],[48.0,4.45],[48.27,4.24],[48.5,4.45],[48.78,4.31],[49.0,4.38],[49.3,4.24],[49.64,4.31],[50.0,4.24],[50.4,4.17],[50.76,4.1],[51.17,4.1],[51.5,4.17],[51.83,4.1],[52.2,4.31],[52.54,4.45],[52.85,4.31],[53.1,4.1],[53.45,4.1],[53.8,4.1],[54.1,4.24],[54.37,4.45],[54.6,4.66],[54.98,4.8],[55.33,4.87],[55.74,5.0],[56.0,5.08],[56.25,5.29],[56.5,5.36],[56.76,5.22],[56.9,5.0],[57.1,5.29],[57.37,5.22],[57.6,5.29],[57.9,5.22],[58.18,5.29],[58.43,5.08],[58.7,4.94],[58.94,4.87],[59.2,4.59],[59.45,4.94],[59.7,5.5],[59.96,5.64],[60.2,5.5],[60.47,5.22],[60.73,5.0],[60.98,5.08],[61.23,4.94],[61.5,4.66],[61.74,4.94],[62.0,4.59],[62.25,4.24],[62.5,4.45],[62.75,4.66],[62.96,4.1],[63.2,4.66],[63.46,4.59],[63.7,5.0],[63.96,5.36],[64.2,5.08],[64.48,5.22],[64.7,5.0],[64.85,4.87],[65.1,5.22],[65.35,5.64],[65.6,5.36],[65.9,5.15],[66.16,5.0],[66.4,4.73],[66.65,4.52],[66.9,4.66],[67.17,4.8],[67.43,4.94],[67.7,4.73],[67.94,4.59],[68.2,4.66],[68.45,4.52],[68.7,4.66],[68.96,4.8],[69.2,4.87],[69.46,4.66],[69.7,4.52],[69.97,4.59],[70.2,4.8],[70.48,4.73],[70.73,4.59],[71.0,4.38],[71.24,4.52],[71.5,4.66],[71.75,4.45],[72,4.55]];

// event times [hour]
const milk01 = [5.2,21.0,25.5,28.9,32.3,44.4,50.7,66.9,68.7];
const breastmilk01 = [1.93,7.4,53.7,65.5];
const food01 = [11.7,16.3,19.0,38.2,40.0,42.3,59.8,62.4];
const sleep01 = [[0,1.7],[1.93,7.7],[9.7,11.6],[14.05,15.07],[19.86,31.9],[35.3,38.1],[44.5,55.1],[57.6,59.4],[60.8,62.0],[68.8,72]];

const milk05 = [7.06,19.0,30.7,43.4,54.2,67.3];
const breastmilk05 = [];
const food05 = [10.9,13.5,17.9,35.8,40.2,42.4,59.55,62.75,66.0];
const sleep05 = [[0,6.8],[10.77,11.6],[19.26,30.9],[32.8,35.3],[38.5,40.3],[43.3,54.2],[55.7,59.2],[67.0,72]];

const milk04 = [8.3,19.75,32.5,43.8,56.0];
const breastmilk04 = [];
const food04 = [12.0,15.2,16.5,18.7,33.5,36.2,40.2,42.5,60.5,64.3,67.5,69.0];
const sleep04 = [[0,7.7],[10.2,10.9],[12.8,15.2],[20.5,32.1],[37.2,39.1],[44.0,55.1],[57.6,59.4],[62.5,63.4],[65.7,66.3],[69.9,72]];

const milk06 = [7.88,19.5,31.86,42.8];
const breastmilk06 = [];
const food06 = [9.0,12.8,17.0,36.5,40.5];
const sleep06 = [[0,8.1],[11.4,12.65],[20.17,31.86],[34.7,35.9],[38.77,40.75]];

const milk03 = [7.3,18.74,30.2,42.5,55.0,67.0];
const breastmilk03 = [];
const food03 = [11.35,15.3,34.4,38.3,59.1,63.4];
const sleep03 = [[0,7.2],[9.5,10.4],[14.05,14.66],[19.1,30.1],[30.55,32.1],[35.0,38.1],[42.8,54.4],[57.6,58.45],[61.25,62.9],[67.0,72]];

const milk09 = [5.7,30.2,43.2,52.95];
const breastmilk09 = [];
const food09 = [9.15,11.9,15.5,20.7,35.0,39.5,57.06,61.07,66.56];
const sleep09 = [[0,5.84],[6.1,7.9],[12.04,13.06],[15.85,17.63],[21.04,32.1],[34.9,36.84],[43.2,56.15],[59.7,60.9],[62.6,63.6],[67.5,72]];

const milk02 = [6.26,19.0,31.2,42.8,43.2,55.3,67.0];
const breastmilk02 = [];
const food02 = [7.9,11.5,12.6,15.8,32.8,35.3,37.0,39.8,43.6,60.5,64.3];
const sleep02 = [[0,6.1],[12.8,13.9],[20.26,31.2],[35.8,36.9],[38.5,39.6],[44.0,55.1],[57.6,59.0],[65.3,66.1],[68.5,72]];

const milk07 = [8.5,17.6,20.4,32.7,38.7,44.3,57.5,62.75,67.8];
const breastmilk07 = [];
const food07 = [12.55,15.75,36.9,41.4,60.57,66.65];
const sleep07 = [[0,8.1],[12.7,15.45],[18.3,20.4],[20.7,32.1],[38.77,40.9],[42.8,43.7],[45.07,56.66],[58.8,59.7],[63.36,64.73],[68.55,72]];

const milk08 = [];
const breastmilk08 = [46.5,64.2];
const food08 = [8.3,12.2,31.8,36.6,43.4,44.3,56.8,60.7,67.0];
const sleep08 = [[0,7.2],[9.7,12.0],[21.5,31.7],[34.5,36.5],[41.2,43.4],[46.0,55.6],[57.8,60.6],[64.05,65.3],[69.6,72]];

const milk10 = [5.7,17.48,19.77,30.1,39.4,44.3,55.74,64.48,67.33];
const breastmilk10 = [4.57];
const food10 = [9.0,11.94,14.94,33.2,36.5,40.24,57.06,60.7,67.0];
const sleep10 = [[0,4.83],[6.45,8.9],[12.2,13.67],[15.7,16.6],[20.5,30.2],[31.45,32.6],[37.7,39.5],[41.67,43.7],[44.3,55.74],[57.77,60.06],[62.6,64.28],[67.5,72]];

const missingDiary06 = {text:'Missing Diary', from:55.3, to:66.5, at:61};

// ---------------- LAYOUT ----------------
const FONT = 'Lato, "Open Sans", sans-serif';
const colX = [0, 618];
const rowY = [0, 256, 513, 769, 1025];

const panels = [
  {c:0,r:0,label:label01,days:days01,g:glucose01,milk:milk01,bm:breastmilk01,food:food01,sleep:sleep01,base:baseline01},
  {c:0,r:1,label:label04,days:days04,g:glucose04,milk:milk04,bm:breastmilk04,food:food04,sleep:sleep04,base:baseline04},
  {c:0,r:2,label:label03,days:days03,g:glucose03,milk:milk03,bm:breastmilk03,food:food03,sleep:sleep03,base:baseline03},
  {c:0,r:3,label:label02,days:days02,g:glucose02,milk:milk02,bm:breastmilk02,food:food02,sleep:sleep02,base:baseline02},
  {c:0,r:4,label:label08,days:days08,g:glucose08,milk:milk08,bm:breastmilk08,food:food08,sleep:sleep08,base:baseline08},
  {c:1,r:0,label:label05,days:days05,g:glucose05,milk:milk05,bm:breastmilk05,food:food05,sleep:sleep05,base:baseline05},
  {c:1,r:1,label:label06,days:days06,g:glucose06,milk:milk06,bm:breastmilk06,food:food06,sleep:sleep06,base:baseline06,missing:missingDiary06},
  {c:1,r:2,label:label09,days:days09,g:glucose09,milk:milk09,bm:breastmilk09,food:food09,sleep:sleep09,base:baseline09},
  {c:1,r:3,label:label07,days:days07,g:glucose07,milk:milk07,bm:breastmilk07,food:food07,sleep:sleep07,base:baseline07},
  {c:1,r:4,label:label10,days:days10,g:glucose10,milk:milk10,bm:breastmilk10,food:food10,sleep:sleep10,base:baseline10},
];

const panelText = {
  id: 'panelText',
  beforeDatasetsDraw(chart, args, opts) {
    const {ctx, scales:{x, y}} = chart;
    ctx.save();
    if (opts.missing) {
      const m = opts.missing;
      const x0 = x.getPixelForValue(m.from), x1 = x.getPixelForValue(m.to);
      const y0 = y.getPixelForValue(2.4), y1 = y.getPixelForValue(1.6);
      ctx.fillStyle = '#fff';
      ctx.fillRect(x0, y0, x1 - x0, y1 - y0);
      ctx.fillStyle = '#4d4d4d';
      ctx.font = '11px ' + FONT;
      ctx.textAlign = 'center'; ctx.textBaseline = 'middle';
      ctx.fillText(m.text, x.getPixelForValue(m.at), y.getPixelForValue(2));
    }
    ctx.fillStyle = '#262626';
    ctx.font = '12px ' + FONT;
    ctx.textAlign = 'left'; ctx.textBaseline = 'middle';
    (opts.days || []).forEach((d, i) => ctx.fillText(d, x.getPixelForValue(i * 24 + 2.3), y.getPixelForValue(8.46)));
    ctx.restore();
  }
};

function pts(times, yv) { return times.map(t => ({x: t, y: yv})); }
function sleepPts(iv) {
  const out = [];
  iv.forEach(([a, b]) => { out.push({x:a, y:1.5}); out.push({x:b, y:1.5}); out.push({x:b, y:null}); });
  return out;
}

panels.forEach(p => {
  const left = colX[p.c], top = rowY[p.r];
  const cv = document.createElement('canvas');
  cv.width = 600; cv.height = 236;
  cv.style.left = left + 'px'; cv.style.top = top + 'px';
  cv.style.width = '600px'; cv.style.height = '236px';
  document.body.appendChild(cv);

  new Chart(cv, {
    type: 'line',
    data: {
      datasets: [
        {label:'Glucose', data:p.g.map(([t, v]) => ({x:t, y:v})), borderColor:'#111', borderWidth:1.6, pointRadius:0, tension:0, fill:false},
        {label:'Baseline', data:[{x:0, y:p.base}, {x:72, y:p.base}], borderColor:'#111', borderWidth:2, pointRadius:0},
        {label:'Milk', data:pts(p.milk, 2), showLine:false, pointStyle:'circle', pointRadius:3.3, pointBackgroundColor:'#111', pointBorderColor:'#111', pointBorderWidth:0},
        {label:'Breastmilk', data:pts(p.bm, 2), showLine:false, pointStyle:'circle', pointRadius:3.2, pointBackgroundColor:'#fff', pointBorderColor:'#444', pointBorderWidth:1},
        {label:'Food', data:pts(p.food, 2), showLine:false, pointStyle:'triangle', pointRadius:4.3, pointBackgroundColor:'#111', pointBorderColor:'#111', pointBorderWidth:0},
        {label:'Sleep', data:sleepPts(p.sleep), borderColor:'#808080', borderWidth:6, borderCapStyle:'butt', pointRadius:0, spanGaps:false},
      ]
    },
    options: {
      responsive:false, animation:false, devicePixelRatio:1,
      layout:{padding:{left:0, right:7, top:19, bottom:0}},
      plugins:{legend:{display:false}, tooltip:{enabled:false}, panelText:{days:p.days, missing:p.missing}},
      scales:{
        x:{type:'linear', min:0, max:72,
          ticks:{stepSize:6, autoSkip:false, maxRotation:0, padding:8, color:'#262626',
                 font:{family:FONT, size:12, weight:'bold'},
                 callback:v => xTickLabels.includes(v) ? String(v) : ''},
          grid:{drawTicks:false,
                color:ctx => (ctx.tick && (ctx.tick.value === 24 || ctx.tick.value === 48)) ? '#a6a6a6' : '#d9d9d9',
                lineWidth:ctx => (ctx.tick && (ctx.tick.value === 24 || ctx.tick.value === 48)) ? 1.5 : 1},
          border:{color:'#d9d9d9'},
          afterFit(s){ s.height = 25; s.paddingLeft = 0; s.paddingRight = 0; }
        },
        y:{min:1, max:9,
          ticks:{stepSize:1, padding:10, color:'#262626', font:{family:FONT, size:12, weight:'bold'}},
          grid:{drawTicks:false, color:'#d9d9d9'},
          border:{color:'#d9d9d9'},
          title:{display:true, text:'Glucose [mmol/L]', color:'#262626', font:{family:FONT, size:12}, padding:{top:13, bottom:0}},
          afterFit(s){ s.width = 46; s.paddingTop = 0; s.paddingBottom = 0; }
        }
      }
    },
    plugins:[panelText]
  });

  const sb = document.createElement('div');
  sb.className = 'sbox'; sb.textContent = p.label;
  sb.style.left = (left + 40) + 'px'; sb.style.top = (top + 234) + 'px';
  document.body.appendChild(sb);

  const xt = document.createElement('div');
  xt.className = 'xt'; xt.textContent = 'Time [hours]';
  xt.style.left = (left + 290) + 'px'; xt.style.top = (top + 236) + 'px';
  document.body.appendChild(xt);

  const lg = document.createElement('div');
  lg.className = 'leg';
  lg.style.left = (left + 376) + 'px'; lg.style.top = (top + 234) + 'px';
  lg.innerHTML = '<i class="mk" style="left:11px"></i><span style="left:20px">Milk</span>' +
                 '<i class="bm" style="left:50px"></i><span style="left:59px">Breastmilk</span>' +
                 '<i class="fd" style="left:135px"></i><span style="left:144px">Food</span>' +
                 '<i class="sl" style="left:183px"></i><span style="left:192px">Sleep</span>';
  document.body.appendChild(lg);
});
</script>
</body></html>
